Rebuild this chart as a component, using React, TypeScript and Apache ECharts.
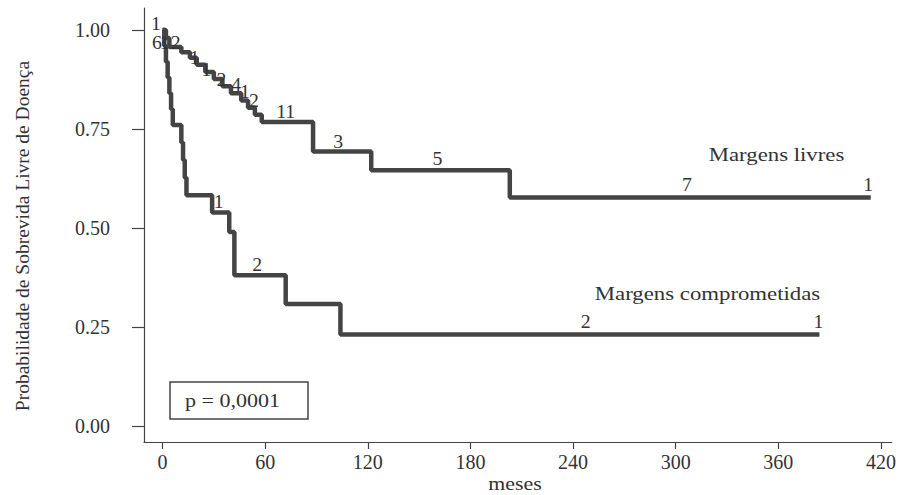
import React, { useEffect, useRef } from "react";
import * as echarts from "echarts";

// Kaplan-Meier steps: time (months) at which survival drops, and survival after the drop
const livresT = [0, 2, 4, 11, 16, 20, 25, 30, 35, 40, 46, 50, 54, 58, 88, 122, 203, 414];
const livresS = [1.0, 0.98, 0.957, 0.944, 0.93, 0.912, 0.894, 0.876, 0.858, 0.84, 0.822, 0.804, 0.786, 0.768, 0.693, 0.646, 0.577, 0.577];

const compT = [0, 1, 2, 3, 4, 5, 6, 11, 12, 13, 14, 29, 39, 42, 72, 104, 384];
const compS = [1.0, 0.96, 0.92, 0.88, 0.84, 0.8, 0.76, 0.716, 0.672, 0.627, 0.583, 0.539, 0.49, 0.381, 0.308, 0.231, 0.231];

// censoring counts written along the curves
const livresLabT = [-3.9, -3.3, 1.3, 7.7, 18.7, 25.7, 34.4, 43, 48.2, 53.4, 72, 102.7, 160.7, 306.5, 412.5];
const livresLabS = [1.015, 0.967, 0.967, 0.967, 0.929, 0.899, 0.874, 0.861, 0.843, 0.821, 0.793, 0.718, 0.674, 0.609, 0.609];
const livresLabText = ["1", "6", "1", "2", "1", "1", "2", "4", "1", "2", "11", "3", "5", "7", "1"];

const compLabT = [32.8, 55.4, 247.4, 383.5];
const compLabS = [0.566, 0.407, 0.263, 0.263];
const compLabText = ["1", "2", "2", "1"];

const xTicks = [0, 60, 120, 180, 240, 300, 360, 420];
const yTicks = [0, 0.25, 0.5, 0.75, 1.0];

const FONT = '"Liberation Serif", "Times New Roman", serif';
const TXT = "#333";
const AX = "#444";

export default function App() {
  const ref = useRef<HTMLDivElement>(null);
  useEffect(() => {
    if (!ref.current) return;
    const chart = echarts.init(ref.current, null, { renderer: "svg" });
    const lineSeries = (name: string, T: number[], S: number[]) => ({
      name,
      type: "line",
      step: "end",
      symbol: "none",
      data: T.map((t, i) => [t, S[i]]),
      lineStyle: { color: "#444", width: 4.5 },
      z: 2,
    });
    const labelSeries = (T: number[], S: number[], txt: string[]) => ({
      type: "custom",
      data: T.map((t, i) => [t, S[i]]),
      renderItem: (params: any, api: any) => {
        const p = api.coord([api.value(0), api.value(1)]);
        return {
          type: "text",
          x: p[0],
          y: p[1],
          scaleX: 1.1,
          style: {
            text: txt[params.dataIndex],
            fill: TXT,
            font: `18px ${FONT}`,
            textAlign: "center",
            textVerticalAlign: "middle",
          },
        };
      },
      silent: true,
      z: 3,
    });
    chart.setOption({
      animation: false,
      backgroundColor: "#fff",
      grid: { left: 144, right: 0, top: 8, bottom: 53 },
      xAxis: {
        type: "value",
        min: -10.83,
        max: 426.3,
        axisLine: { show: true, onZero: false, lineStyle: { color: AX, width: 1.2 } },
        axisTick: { show: true, customValues: xTicks, length: 7, lineStyle: { color: AX, width: 1.2 } },
        axisLabel: { customValues: xTicks, margin: 10, fontFamily: FONT, fontSize: 20, color: TXT },
        splitLine: { show: false },
      },
      yAxis: {
        type: "value",
        min: -0.0404,
        max: 1.0556,
        axisLine: { show: true, onZero: false, lineStyle: { color: AX, width: 1.2 } },
        axisTick: { show: true, customValues: yTicks, length: 12, lineStyle: { color: AX, width: 1.2 } },
        axisLabel: {
          customValues: yTicks,
          margin: 34,
          fontFamily: FONT,
          fontSize: 20,
          color: TXT,
          formatter: (v: number) => v.toFixed(2),
        },
        splitLine: { show: false },
      },
      series: [
        lineSeries("Margens livres", livresT, livresS),
        lineSeries("Margens comprometidas", compT, compS),
        labelSeries(livresLabT, livresLabS, livresLabText),
        labelSeries(compLabT, compLabS, compLabText),
      ],
      graphic: [
        {
          type: "text",
          x: 22,
          y: 236,
          rotation: Math.PI / 2,
          style: {
            text: "Probabilidade de Sobrevida Livre de Doença",
            font: `19.5px ${FONT}`,
            fill: TXT,
            textAlign: "center",
            textVerticalAlign: "middle",
          },
        },
        {
          type: "text",
          x: 515,
          y: 484,
          scaleX: 1.15,
          style: { text: "meses", font: `19px ${FONT}`, fill: TXT, textAlign: "center", textVerticalAlign: "middle" },
        },
        {
          type: "text",
          x: 776.5,
          y: 155,
          scaleX: 1.2,
          style: { text: "Margens livres", font: `19px ${FONT}`, fill: TXT, textAlign: "center", textVerticalAlign: "middle" },
        },
        {
          type: "text",
          x: 707.5,
          y: 294,
          scaleX: 1.2,
          style: { text: "Margens comprometidas", font: `19px ${FONT}`, fill: TXT, textAlign: "center", textVerticalAlign: "middle" },
        },
        {
          type: "rect",
          shape: { x: 170, y: 382, width: 138, height: 37 },
          style: { fill: "#fff", stroke: AX, lineWidth: 1.5 },
          z: 10,
        },
        {
          type: "text",
          x: 185,
          y: 401,
          scaleX: 1.16,
          z: 11,
          style: { text: "p = 0,0001", font: `19px ${FONT}`, fill: TXT, textAlign: "left", textVerticalAlign: "middle" },
        },
      ],
    });
    return () => chart.dispose();
  }, []);
  return <div ref={ref} style={{ position: "fixed", left: 0, top: 0, width: 899, height: 495 }} />;
}
